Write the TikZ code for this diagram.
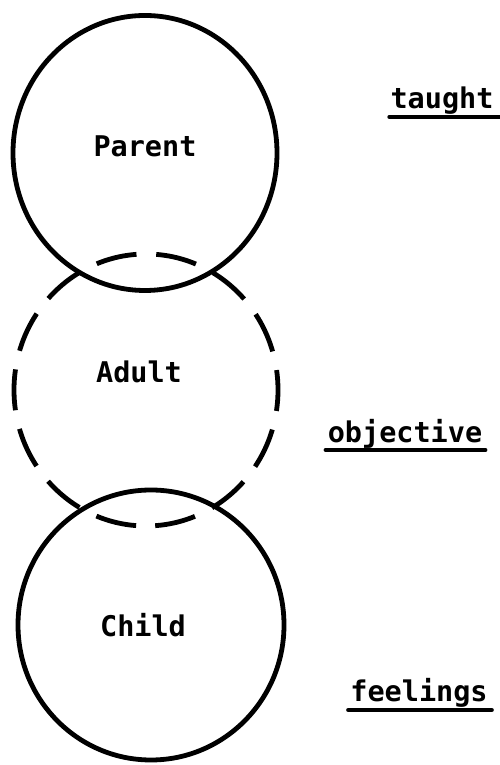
\documentclass[tikz,border=0pt]{standalone}
\usepackage{fontspec}
\newfontfamily\tw{DejaVu Sans Mono}
\begin{document}
\begin{tikzpicture}[x=1pt,y=1pt,
  ring/.style={line width=4.8pt},
  dashring/.style={line width=4.8pt,dash pattern=on 41pt off 19.1pt,dash phase=50.55pt},
  lbl/.style={font=\tw\bfseries\fontsize{28.5}{30}\selectfont,inner sep=0pt,anchor=base},
  uline/.style={line width=4pt,line cap=round}]
\useasboundingbox (0,0) rectangle (500,765);
% circles
\draw[ring] (145,612) ellipse [x radius=132, y radius=137.5];
\draw[ring] (151,140) ellipse [x radius=133, y radius=135];
\draw[dashring] (146,511) arc[start angle=90, end angle=450, x radius=132, y radius=136];
% labels
\node[lbl] (parent) at (145,608) {Parent};
\node[lbl] (adult) at (139,382) {Adult};
\node[lbl] (child) at (143,128) {Child};
\node[lbl] (taught) at (442,656) {taught};
\node[lbl] (objective) at (405,322) {objective};
\node[lbl] (feelings) at (419,63) {feelings};
% underlines
\draw[uline] ([xshift=-1pt,yshift=-8pt]taught.base west) -- ([xshift=6pt,yshift=-8pt]taught.base east);
\draw[uline] ([xshift=-2pt,yshift=-7pt]objective.base west) -- ([xshift=3pt,yshift=-7pt]objective.base east);
\draw[uline] ([xshift=-2pt,yshift=-8pt]feelings.base west) -- ([xshift=4pt,yshift=-8pt]feelings.base east);
\end{tikzpicture}
\end{document}
